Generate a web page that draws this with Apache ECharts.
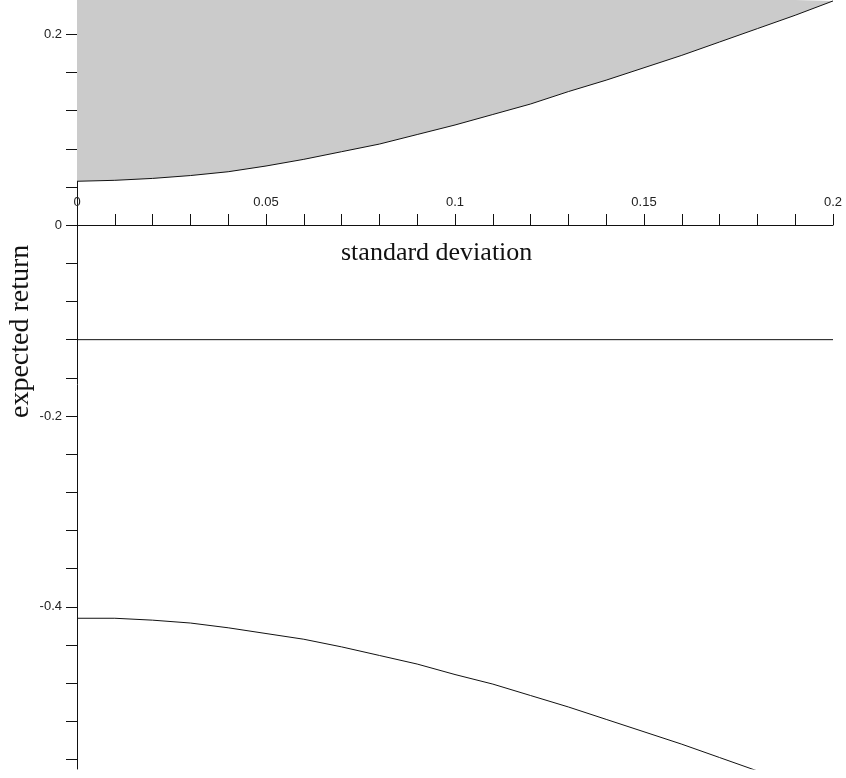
<!DOCTYPE html>
<html>
<head>
<meta charset="utf-8">
<script src="https://cdn.jsdelivr.net/npm/echarts@6/dist/echarts.min.js"></script>
<style>
  html, body { margin: 0; padding: 0; background: #fff; }
  #chart { width: 846px; height: 778px; }
</style>
</head>
<body>
<div id="chart"></div>
<script>
// standard deviation values (x)
const sigma = [0, 0.01, 0.02, 0.03, 0.04, 0.05, 0.06, 0.07, 0.08, 0.09, 0.10,
  0.11, 0.12, 0.13, 0.14, 0.15, 0.16, 0.17, 0.18, 0.19, 0.20]
// upper branch (shaded above)
const upperReturn = [0.046, 0.047, 0.049, 0.052, 0.056, 0.062, 0.069, 0.077, 0.085, 0.095, 0.105,
  0.116, 0.127, 0.140, 0.152, 0.165, 0.178, 0.192, 0.206, 0.220, 0.235]
// lower branch
const lowerReturn = [-0.412, -0.412, -0.414, -0.417, -0.422, -0.428, -0.434, -0.442, -0.451, -0.460, -0.471,
  -0.481, -0.493, -0.505, -0.518, -0.531, -0.544, -0.558, -0.572]
// flat line
const flatSigma = [0, 0.2]
const flatReturn = [-0.12, -0.12]

const xTicks = [0, 0.01, 0.02, 0.03, 0.04, 0.05, 0.06, 0.07, 0.08, 0.09, 0.1,
  0.11, 0.12, 0.13, 0.14, 0.15, 0.16, 0.17, 0.18, 0.19, 0.2]
const xLabels = [0, 0.05, 0.1, 0.15, 0.2]
const yTicks = [0.2, 0.16, 0.12, 0.08, 0.04, 0, -0.04, -0.08, -0.12, -0.16, -0.2,
  -0.24, -0.28, -0.32, -0.36, -0.4, -0.44, -0.48, -0.52, -0.56]
const yLabels = [0.2, 0, -0.2, -0.4]
const yMin = -0.57
const yMax = 0.236

const pairs = (xs, ys) => ys.map((y, i) => [xs[i], y])

const gridTop = 0
const gridBottom = 9
const plotH = 778 - gridTop - gridBottom
// x axis sits on return = 0 (labels do not follow onZero, so shift it by offset)
const zeroOffset = -Math.round(plotH * (0 - yMin) / (yMax - yMin))

const chart = echarts.init(document.getElementById('chart'))
chart.setOption({
  animation: false,
  backgroundColor: '#fff',
  grid: { left: 77, right: 13, top: gridTop, bottom: gridBottom },
  xAxis: {
    type: 'value',
    min: 0,
    max: 0.2,
    position: 'bottom',
    offset: zeroOffset,
    axisLine: { onZero: false, lineStyle: { color: '#111', width: 1 } },
    axisTick: {
      inside: true,
      length: 11,
      customValues: xTicks,
      lineStyle: { color: '#111' },
    },
    axisLabel: {
      inside: true,
      margin: 16,
      customValues: xLabels,
      color: '#222',
      fontSize: 13,
      fontFamily: 'Liberation Sans',
    },
    splitLine: { show: false },
  },
  yAxis: {
    type: 'value',
    min: yMin,
    max: yMax,
    axisLine: { show: true, onZero: false, lineStyle: { color: '#111', width: 1 } },
    axisTick: {
      show: true,
      length: 11,
      customValues: yTicks,
      lineStyle: { color: '#111' },
    },
    axisLabel: {
      margin: 15,
      customValues: yLabels,
      color: '#222',
      fontSize: 13,
      fontFamily: 'Liberation Sans',
    },
    splitLine: { show: false },
  },
  graphic: [
    {
      type: 'text',
      left: 341,
      top: 240,
      style: {
        text: 'standard deviation',
        font: '26px "Liberation Serif"',
        fill: '#111',
      },
    },
    {
      type: 'text',
      x: 7,
      y: 418,
      rotation: Math.PI / 2,
      style: {
        text: 'expected return',
        font: '28px "Liberation Serif"',
        fill: '#111',
        textVerticalAlign: 'top',
      },
    },
  ],
  series: [
    {
      type: 'line',
      data: pairs(sigma, upperReturn),
      symbol: 'none',
      lineStyle: { color: '#111', width: 1 },
      areaStyle: { origin: 'end', color: '#cbcbcb', opacity: 1 },
      z: 1,
    },
    {
      type: 'line',
      data: pairs(sigma, lowerReturn),
      symbol: 'none',
      lineStyle: { color: '#111', width: 1 },
    },
    {
      type: 'line',
      data: pairs(flatSigma, flatReturn),
      symbol: 'none',
      lineStyle: { color: '#111', width: 1 },
    },
  ],
})
</script>
</body>
</html>
